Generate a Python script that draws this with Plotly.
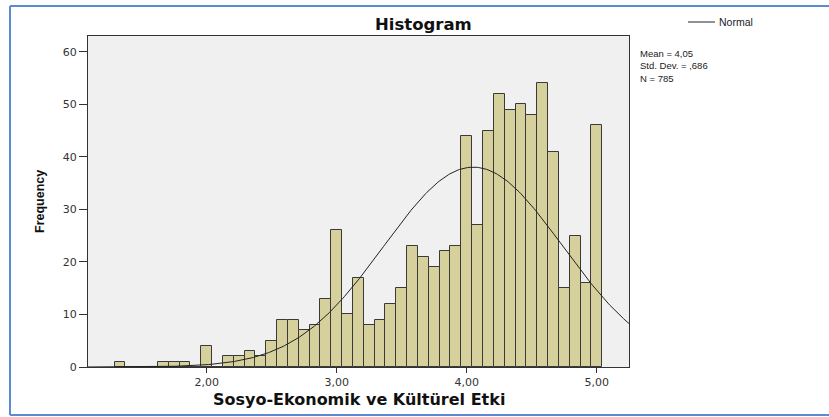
import numpy as np
import plotly.graph_objects as go

# ---- data ----
bin_width = 1 / 12
bin_index = list(range(16, 61))  # bin centres = index / 12  (1.333 ... 5.000)
counts = [1, 0, 0, 0, 1, 1, 1, 0, 4, 0,
          2, 2, 3, 2, 5, 9, 9, 7, 8, 13,
          26, 10, 17, 8, 9, 12, 15, 23, 21, 19,
          22, 23, 44, 27, 45, 52, 49, 50, 48, 54,
          41, 15, 25, 16, 46]
stat_mean = 4.05
stat_sd = 0.686
stat_n = 785
x_tick_vals = [2, 3, 4, 5]
x_tick_text = ["2,00", "3,00", "4,00", "5,00"]
y_tick_vals = [0, 10, 20, 30, 40, 50, 60]
stats_lines = ["Mean = 4,05", "Std. Dev. = ,686", "N = 785"]

x_range = [1.087, 5.248]
y_range = [0, 63]

centres = [k / 12 for k in bin_index]

# normal curve from the stated statistics
xc = np.linspace(x_range[0], x_range[1], 400)
yc = stat_n * bin_width / (stat_sd * np.sqrt(2 * np.pi)) * np.exp(-0.5 * ((xc - stat_mean) / stat_sd) ** 2)

fig = go.Figure()
fig.add_trace(go.Bar(
    x=centres, y=counts, width=bin_width,
    marker=dict(color="#D6D19C", line=dict(color="#3A3A3A", width=1)),
    showlegend=False, hoverinfo="x+y"))
fig.add_trace(go.Scatter(
    x=xc, y=yc, mode="lines", line=dict(color="#222222", width=1),
    showlegend=False, hoverinfo="skip"))

W, H = 829, 417
L, R, T, B = 88, 200, 36, 50
pw, ph = W - L - R, H - T - B

def px(x):
    return (x - L) / pw

def py(y):
    return (H - B - y) / ph

fig.update_layout(
    width=W, height=H,
    margin=dict(l=L, r=R, t=T, b=B),
    paper_bgcolor="white", plot_bgcolor="#F0F0F0",
    bargap=0,
    xaxis=dict(range=x_range, tickvals=x_tick_vals, ticktext=x_tick_text,
               ticks="outside", ticklen=5, tickcolor="#333333",
               showgrid=False, zeroline=False, showline=True, mirror=True,
               linecolor="#333333", linewidth=1,
               tickfont=dict(family="DejaVu Sans", size=11, color="#333333")),
    yaxis=dict(range=y_range, tickvals=y_tick_vals,
               ticks="outside", ticklen=8, tickcolor="#333333",
               showgrid=False, zeroline=False, showline=True, mirror=True,
               linecolor="#333333", linewidth=1,
               tickfont=dict(family="DejaVu Sans", size=11, color="#333333")),
    font=dict(family="Liberation Sans", color="#222222"),
)

ann = []
ann.append(dict(text="<b>Histogram</b>", x=px(423), y=py(24), xref="paper", yref="paper",
                showarrow=False, xanchor="center", yanchor="middle",
                font=dict(family="DejaVu Sans", size=16.5, color="#111111")))
ann.append(dict(text="<b>Sosyo-Ekonomik ve Kültürel Etki</b>", x=px(358.5), y=py(399),
                xref="paper", yref="paper", showarrow=False, xanchor="center", yanchor="middle",
                font=dict(family="DejaVu Sans", size=16, color="#111111")))
ann.append(dict(text="<b>Frequency</b>", x=px(40), y=py(202), xref="paper", yref="paper",
                showarrow=False, textangle=-90, xanchor="center", yanchor="middle",
                font=dict(family="Liberation Sans", size=12.5, color="#111111")))
ann.append(dict(text="<br>".join(stats_lines), x=px(638), y=py(66.5), xref="paper", yref="paper",
                showarrow=False, xanchor="left", yanchor="middle", align="left",
                font=dict(family="Liberation Sans", size=9.5, color="#222222")))
ann.append(dict(text="Normal", x=px(717), y=py(22), xref="paper", yref="paper",
                showarrow=False, xanchor="left", yanchor="middle",
                font=dict(family="Liberation Sans", size=10.5, color="#222222")))
fig.update_layout(annotations=ann)

shapes = [
    # legend line sample
    dict(type="line", xref="paper", yref="paper", x0=px(688), x1=px(715), y0=py(22), y1=py(22),
         line=dict(color="#222222", width=1)),
    # blue outer frame
    dict(type="line", xref="paper", yref="paper", x0=px(10), x1=px(840), y0=py(6), y1=py(6),
         line=dict(color="#5B8BD2", width=2)),
    dict(type="line", xref="paper", yref="paper", x0=px(10), x1=px(840), y0=py(415), y1=py(415),
         line=dict(color="#5B8BD2", width=2)),
    dict(type="line", xref="paper", yref="paper", x0=px(10), x1=px(10), y0=py(6), y1=py(415),
         line=dict(color="#5B8BD2", width=2)),
]
fig.update_layout(shapes=shapes)

fig.write_html("out.html", config={"displayModeBar": False},
               post_script="document.body.style.margin='0';document.body.style.overflow='hidden';")
